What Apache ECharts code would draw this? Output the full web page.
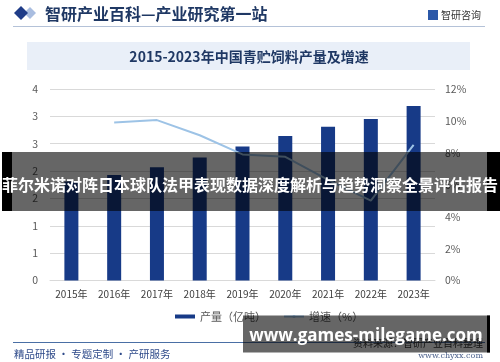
<!DOCTYPE html>
<html><head><meta charset="utf-8">
<script src="https://cdn.jsdelivr.net/npm/echarts@6/dist/echarts.min.js"></script>
<style>html,body{margin:0;padding:0;background:#fff}#c{width:500px;height:362px}</style>
</head><body><div id="c"></div>
<script>
var years = ['2015年','2016年','2017年','2018年','2019年','2020年','2021年','2022年','2023年'];
var production = [1.81, 1.93, 2.07, 2.25, 2.45, 2.64, 2.81, 2.95, 3.19];
var growth = [null, 9.9, 10.05, 9.1, 7.9, 7.75, 6.3, 5.0, 8.5];
var seriesNames = ['产量（亿吨）', '增速（%）'];
var headerTitle = '智研产业百科—产业研究第一站';
var chartTitle = '2015-2023年中国青贮饲料产量及增速';
var logoText = '智研咨询';
var footerLeft = '精品研报 · 专题定制 · 产研服务';
var sourceText = '资料来源：智研产业百科整理';
var siteText = 'www.chyxx.com';
var bannerText = '菲尔米诺对阵日本球队法甲表现数据深度解析与趋势洞察全景评估报告';
var bannerUrl = 'www.games-milegame.com';

var CJK = '"Noto Sans CJK SC", "Noto Sans", sans-serif';
var chart = echarts.init(document.getElementById('c'), null, {renderer: 'canvas'});
chart.setOption({
  animation: false,
  backgroundColor: '#ffffff',
  textStyle: {fontFamily: CJK},
  grid: {left: 50, right: 65, top: 89, bottom: 81.5},
  legend: {
    left: 170, top: 306, itemGap: 17, itemWidth: 20, itemHeight: 4,
    textStyle: {fontSize: 11, color: '#595959', fontFamily: CJK},
    data: [{name: seriesNames[0], icon: 'rect'}, {name: seriesNames[1]}]
  },
  xAxis: {
    type: 'category', data: years,
    axisLine: {lineStyle: {color: '#d9d9d9'}},
    axisTick: {show: false},
    axisLabel: {color: '#404040', fontSize: 10, margin: 9, interval: 0}
  },
  yAxis: [{
    type: 'value', min: 0, max: 3.5, interval: 0.5,
    axisLine: {show: false}, axisTick: {show: false},
    splitLine: {lineStyle: {color: '#d9d9d9'}},
    axisLabel: {color: '#595959', fontSize: 10.5, margin: 12,
      formatter: function (v) { return String(Math.round(v)); }}
  }, {
    type: 'value', min: 0, max: 12, interval: 2, position: 'right',
    axisLine: {show: false}, axisTick: {show: false}, splitLine: {show: false},
    axisLabel: {color: '#595959', fontSize: 10.5, margin: 10, formatter: '{value}%'}
  }],
  series: [{
    name: seriesNames[0], type: 'bar', data: production, barWidth: 14,
    itemStyle: {color: '#173a87'}
  }, {
    name: seriesNames[1], type: 'line', yAxisIndex: 1, data: growth,
    symbol: 'none', lineStyle: {color: '#9dc3e6', width: 2}, itemStyle: {color: '#9dc3e6'}
  }],
  graphic: [
    {type: 'rect', z: 50, shape: {x: 27, y: 42, width: 443, height: 28}, style: {fill: '#e9eff8'}},
    {type: 'text', z: 51, x: 249, y: 57, style: {text: chartTitle, fill: '#1f3864', font: 'bold 14px ' + CJK, textAlign: 'center', textVerticalAlign: 'middle'}},
    {type: 'polygon', z: 50, shape: {points: [[30,7],[36,13],[30,19],[24,13]]}, style: {fill: '#a9bde0'}},
    {type: 'polygon', z: 51, shape: {points: [[21,6],[28,13],[21,20],[14,13]]}, style: {fill: '#1f3c88'}},
    {type: 'text', z: 51, x: 45, y: 14, style: {text: headerTitle, fill: '#1f3864', font: 'bold 16px ' + CJK, textVerticalAlign: 'middle'}},
    {type: 'line', z: 50, shape: {x1: 13, y1: 26.5, x2: 485, y2: 26.5}, style: {stroke: '#b4c2d8', lineWidth: 1}},
    {type: 'rect', z: 50, shape: {x: 428, y: 10, width: 10, height: 10}, style: {fill: '#2b58a8'}},
    {type: 'text', z: 51, x: 441, y: 15, style: {text: logoText, fill: '#333333', font: '10px ' + CJK, textVerticalAlign: 'middle'}},
    {type: 'line', z: 50, shape: {x1: 13, y1: 342.5, x2: 485, y2: 342.5}, style: {stroke: '#4a6fa5', lineWidth: 1}},
    {type: 'text', z: 51, x: 14, y: 354, style: {text: footerLeft, fill: '#2e4a8a', font: '10.5px ' + CJK, textVerticalAlign: 'middle'}},
    {type: 'text', z: 51, x: 483, y: 343, style: {text: sourceText, fill: '#333333', font: '10px ' + CJK, textAlign: 'right', textVerticalAlign: 'middle'}},
    {type: 'text', z: 51, x: 483, y: 355.5, style: {text: siteText, fill: '#4a5f8a', font: '8px "DejaVu Serif", serif', textAlign: 'right', textVerticalAlign: 'middle'}},
    {type: 'rect', z: 100, shape: {x: 2, y: 152, width: 498, height: 59}, style: {fill: 'rgba(0,0,0,0.6)'}},
    {type: 'rect', z: 100, shape: {x: 2, y: 152, width: 10, height: 59}, style: {fill: '#000000'}},
    {type: 'rect', z: 100, shape: {x: 487, y: 152, width: 13, height: 59}, style: {fill: '#000000'}},
    {type: 'text', z: 101, x: 250, y: 185, style: {text: bannerText, fill: '#ffffff', font: 'bold 16px ' + CJK, textAlign: 'center', textVerticalAlign: 'middle'}},
    {type: 'rect', z: 100, shape: {x: 243, y: 315.5, width: 247, height: 37}, style: {fill: 'rgba(0,0,0,0.6)'}},
    {type: 'rect', z: 100, shape: {x: 487, y: 315.5, width: 3, height: 37}, style: {fill: '#000000'}},
    {type: 'text', z: 101, x: 366, y: 336, style: {text: bannerUrl, fill: '#ffffff', font: 'bold 17px "Open Sans", sans-serif', textAlign: 'center', textVerticalAlign: 'middle'}}
  ]
});
</script></body></html>
